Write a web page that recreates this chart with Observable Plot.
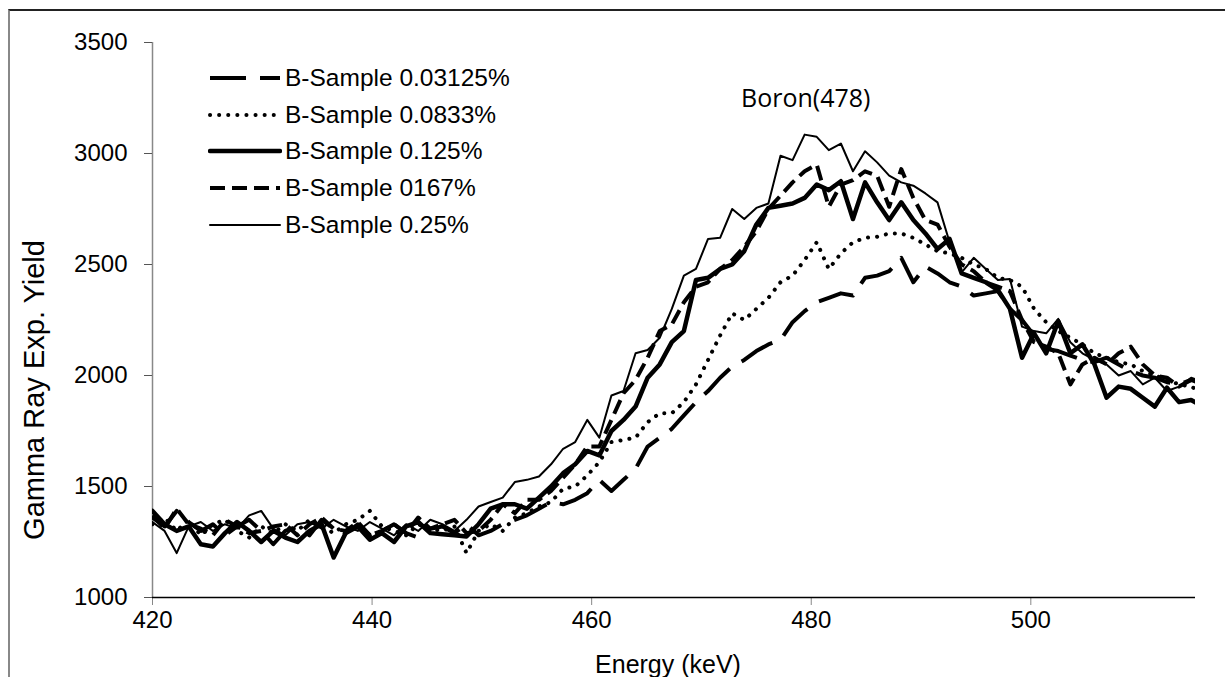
<!DOCTYPE html>
<html><head><meta charset="utf-8">
<script src="https://cdn.jsdelivr.net/npm/d3@7"></script>
<script src="https://cdn.jsdelivr.net/npm/@observablehq/plot@0.6"></script>
<style>
html,body{margin:0;padding:0;background:#fff;}
body{width:1225px;height:677px;overflow:hidden;position:relative;font-family:"Liberation Sans",Arial,sans-serif;color:#000;}
#frame{position:absolute;left:8px;top:9px;width:1300px;height:800px;border-top:2px solid #222;border-left:2px solid #888;box-sizing:border-box;}
#chart{position:absolute;left:0;top:0;}
.ttl{position:absolute;white-space:nowrap;line-height:1;}
#ytitle{left:34px;top:390px;font-size:29px;transform:translate(-50%,-50%) rotate(-90deg);}
#xtitle{left:668px;top:664px;font-size:25px;transform:translate(-50%,-50%);}
#legend{position:absolute;left:208px;top:60px;}
.lrow{display:flex;align-items:center;height:36.6px;font-size:24.5px;}
.lrow svg{display:block;margin-right:3px;}
</style></head><body>
<div id="frame"></div>
<div id="chart"></div>
<div id="ytitle" class="ttl">Gamma Ray Exp. Yield</div>
<div id="xtitle" class="ttl">Energy (keV)</div>
<div id="legend"></div>
<script>
// Energy grid (keV)
const energy = [420.0,421.1,422.2,423.3,424.4,425.5,426.6,427.7,428.8,429.9,431.0,432.1,433.2,434.3,435.4,436.5,437.6,438.7,439.8,440.9,442.0,443.1,444.2,445.3,446.4,447.5,448.6,449.7,450.8,451.9,453.0,454.1,455.2,456.3,457.4,458.5,459.6,460.7,461.8,462.9,464.0,465.1,466.2,467.3,468.4,469.5,470.6,471.7,472.8,473.9,475.0,476.1,477.2,478.3,479.4,480.5,481.6,482.7,483.8,484.9,486.0,487.1,488.2,489.3,490.4,491.5,492.6,493.7,494.8,495.9,497.0,498.1,499.2,500.3,501.4,502.5,503.6,504.7,505.8,506.9,508.0,509.1,510.2,511.3,512.4,513.5,514.6,515.7];

const sample003125 = [1360,1320,1390,1340,1300,1330,1280,1320,1350,1300,
 1240,1300,1320,1280,1350,1310,1290,1330,1280,1300,
 1330,1290,1270,1310,1320,1290,1330,1280,1300,1330,
 1350,1370,1400,1430,1420,1440,1470,1530,1480,1530,
 1580,1680,1720,1760,1820,1880,1930,1990,2040,2070,
 2110,2140,2160,2240,2290,2330,2350,2370,2360,2440,
 2450,2470,2530,2420,2490,2460,2420,2400,2360,2370,
 2380,2300,2250,2180,2120,2110,2090,2070,2060,2080,
 2050,2020,2000,1990,1970,1960,1980,1960];

const sample00833 = [1330,1360,1300,1350,1280,1330,1350,1300,1270,1320,
 1290,1330,1300,1350,1320,1290,1330,1350,1390,1320,
 1300,1280,1330,1310,1300,1320,1200,1300,1330,1300,
 1360,1380,1410,1430,1490,1500,1550,1610,1700,1710,
 1720,1790,1830,1830,1880,1960,2070,2180,2280,2250,
 2300,2350,2420,2450,2520,2600,2480,2550,2600,2620,
 2625,2640,2640,2620,2590,2560,2550,2530,2500,2480,
 2440,2430,2400,2300,2240,2200,2170,2140,2100,2080,
 2060,2050,2020,2000,1980,1960,1950,1920];

const sample0125 = [1390,1330,1300,1320,1240,1230,1290,1340,1300,1250,
 1300,1270,1250,1300,1330,1180,1290,1320,1260,1290,
 1250,1320,1340,1290,1285,1280,1275,1330,1400,1420,
 1420,1400,1450,1500,1560,1600,1660,1640,1750,1800,
 1860,1990,2050,2150,2200,2430,2440,2480,2500,2560,
 2680,2755,2765,2775,2800,2860,2835,2875,2705,2870,
 2780,2700,2780,2700,2640,2570,2615,2460,2440,2420,
 2385,2300,2080,2190,2100,2245,2100,2140,2050,1900,
 1950,1940,1900,1860,1945,1880,1890,1860];

const sample0167 = [1370,1310,1400,1330,1310,1280,1350,1320,1290,1300,
 1320,1330,1280,1330,1360,1310,1300,1340,1280,1300,
 1330,1290,1360,1310,1330,1350,1290,1300,1350,1420,
 1380,1440,1440,1480,1540,1600,1680,1680,1800,1920,
 1980,2080,2200,2230,2330,2400,2420,2480,2520,2580,
 2650,2750,2810,2870,2920,2950,2760,2860,2880,2920,
 2900,2760,2930,2800,2700,2680,2580,2500,2470,2420,
 2400,2380,2250,2150,2130,2100,1960,2050,2080,2050,
 2100,2130,2050,2000,1990,1950,1980,1940];

const sample025 = [1340,1300,1200,1320,1340,1300,1330,1310,1370,1390,
 1310,1280,1330,1340,1310,1350,1320,1300,1340,1310,
 1280,1330,1300,1350,1330,1300,1350,1410,1430,1450,
 1520,1530,1545,1600,1670,1700,1800,1720,1910,1930,
 2100,2115,2170,2300,2450,2480,2615,2620,2750,2705,
 2755,2775,2990,2970,3085,3075,3015,3045,2920,3010,
 2960,2900,2870,2855,2820,2780,2600,2465,2530,2480,
 2430,2435,2220,2200,2190,2255,2150,2100,2070,2050,
 2000,2020,1960,1990,1930,1950,1990,1970];

const seriesNames = ["B-Sample 0.03125%","B-Sample 0.0833%","B-Sample 0.125%","B-Sample 0167%","B-Sample 0.25%"];
const seriesValues = [sample003125, sample00833, sample0125, sample0167, sample025];
const xTicks = [420,440,460,480,500];
const yTicks = [1000,1500,2000,2500,3000,3500];
const annotationText = "Boron(478)";
const annotationEnergy = 479.5;
const annotationYield = 3245;

const styles = [
  {strokeWidth:4, strokeDasharray:"36 14", strokeLinecap:"butt"},
  {strokeWidth:4, strokeDasharray:"0.1 9", strokeLinecap:"round"},
  {strokeWidth:4.5, strokeDasharray:null, strokeLinecap:"round"},
  {strokeWidth:4, strokeDasharray:"15 7", strokeLinecap:"butt"},
  {strokeWidth:2, strokeDasharray:null, strokeLinecap:"round"}
];

const lineMarks = seriesValues.map((vals, s) => {
  const rows = energy.map((e, i) => ({energy: e, yield: vals[i]}));
  const st = styles[s];
  const opts = {x: "energy", y: "yield", stroke: "#000", strokeWidth: st.strokeWidth,
    strokeLinecap: st.strokeLinecap, strokeLinejoin: "round", clip: true};
  if (st.strokeDasharray) opts.strokeDasharray = st.strokeDasharray;
  return Plot.line(rows, opts);
});

const plot = Plot.plot({
  width: 1225, height: 677,
  marginLeft: 152, marginRight: 30, marginTop: 42, marginBottom: 80,
  x: {domain: [420, 515]},
  y: {domain: [1000, 3500]},
  style: {fontFamily: "'Liberation Sans', Arial, sans-serif", fontSize: "24px", background: "transparent", color: "#000", overflow: "visible"},
  marks: [
    Plot.ruleX([420], {stroke: "#888", strokeWidth: 1.5}),
    Plot.axisX({ticks: xTicks, tickSize: 8, tickPadding: 5, stroke: "#888", label: null, tickFormat: d => `${d}`}),
    Plot.axisY({ticks: yTicks, tickSize: 8, tickPadding: 17, stroke: "#555", label: null, tickFormat: d => `${d}`}),
    ...lineMarks,
    Plot.ruleY([1000], {stroke: "#000", strokeWidth: 1.5}),
    Plot.text([{energy: annotationEnergy, yield: annotationYield, label: annotationText}],
      {x: "energy", y: "yield", text: "label", fontFamily: "'Open Sans', sans-serif", fontSize: 25, fill: "#000"})
  ]
});
document.getElementById("chart").appendChild(plot);

// legend
const legend = document.getElementById("legend");
seriesNames.forEach((name, s) => {
  const st = styles[s];
  const row = document.createElement("div");
  row.className = "lrow";
  const ns = "http://www.w3.org/2000/svg";
  const svg = document.createElementNS(ns, "svg");
  svg.setAttribute("width", 74); svg.setAttribute("height", 12);
  const ln = document.createElementNS(ns, "line");
  ln.setAttribute("x1", 2); ln.setAttribute("x2", 72); ln.setAttribute("y1", 6); ln.setAttribute("y2", 6);
  ln.setAttribute("stroke", "#000"); ln.setAttribute("stroke-width", st.strokeWidth);
  ln.setAttribute("stroke-linecap", st.strokeLinecap);
  if (st.strokeDasharray) ln.setAttribute("stroke-dasharray", st.strokeDasharray);
  svg.appendChild(ln);
  row.appendChild(svg);
  const t = document.createElement("span");
  t.textContent = name;
  row.appendChild(t);
  legend.appendChild(row);
});
</script>
</body></html>
